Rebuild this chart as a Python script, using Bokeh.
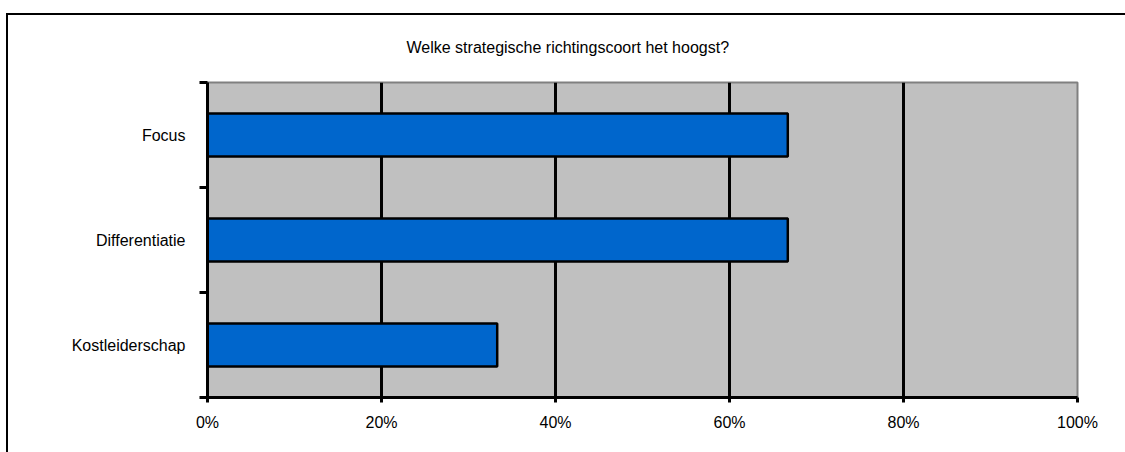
from bokeh.plotting import figure
from bokeh.models import (FixedTicker, NumeralTickFormatter, ColumnDataSource, Range1d, InlineStyleSheet)
from bokeh.embed import file_html
from bokeh.resources import INLINE

# ---- data ----
categories = ["Kostleiderschap", "Differentiatie", "Focus"]
values = [0.333, 0.667, 0.667]
x_ticks = [0.0, 0.2, 0.4, 0.6, 0.8, 1.0]
title_text = "Welke strategische richtingscoort het hoogst?"

FONT = "Liberation Sans"
FS = "16px"

ypos = [i + 0.5 for i in range(len(categories))]
src = ColumnDataSource(dict(y=ypos, v=values, cat=categories))

p = figure(width=1125, height=452, output_backend="svg", toolbar_location=None,
           x_range=Range1d(0, 1), y_range=Range1d(0, len(categories)),
           min_border_left=207, min_border_right=48, min_border_top=82, min_border_bottom=55)

p.background_fill_color = "#C0C0C0"
p.border_fill_color = "white"
p.outline_line_color = "#808080"
p.outline_line_width = 2

p.hbar(y="y", right="v", left=0, height=0.41, source=src,
       fill_color="#0066CC", line_color="black", line_width=2.5)

# grid
p.ygrid.visible = False
p.xgrid.ticker = FixedTicker(ticks=x_ticks[1:-1])
p.xgrid.grid_line_color = "black"
p.xgrid.grid_line_width = 3

# x axis
xa = p.xaxis[0]
xa.ticker = FixedTicker(ticks=x_ticks)
xa.formatter = NumeralTickFormatter(format="0%")
xa.axis_line_width = 3
xa.major_tick_line_width = 3
xa.major_tick_out = 5
xa.major_tick_in = 0
xa.minor_tick_line_color = None
xa.major_label_standoff = 11
xa.major_label_text_font = FONT
xa.major_label_text_font_size = FS
xa.major_label_text_color = "black"

# y axis
ya = p.yaxis[0]
ya.ticker = FixedTicker(ticks=ypos, minor_ticks=list(range(len(categories) + 1)))
ya.major_label_overrides = {y: c for y, c in zip(ypos, categories)}
ya.axis_line_width = 3
ya.major_tick_line_color = None
ya.major_tick_out = 0
ya.major_tick_in = 0
ya.minor_tick_line_color = "black"
ya.minor_tick_line_width = 3
ya.minor_tick_out = 8
ya.minor_tick_in = 0
ya.major_label_standoff = 14
ya.major_label_text_font = FONT
ya.major_label_text_font_size = FS
ya.major_label_text_color = "black"

# title
p.title.text = title_text
p.title.text_font = FONT
p.title.text_font_size = FS
p.title.text_font_style = "normal"
p.title.text_color = "black"
p.title.align = "left"
p.title.offset = 199
p.title.standoff = 54

# outer frame (top and left edges of the surrounding box)
p.stylesheets = [InlineStyleSheet(css="""
:host { position: relative; }
:host::after {
  content: "";
  position: absolute;
  left: 6px; top: 13px; right: 0px; bottom: 0px;
  border-top: 2px solid black;
  border-left: 2px solid black;
  pointer-events: none;
  z-index: 10;
}
""")]

open("out.html", "w").write(file_html(p, INLINE))
